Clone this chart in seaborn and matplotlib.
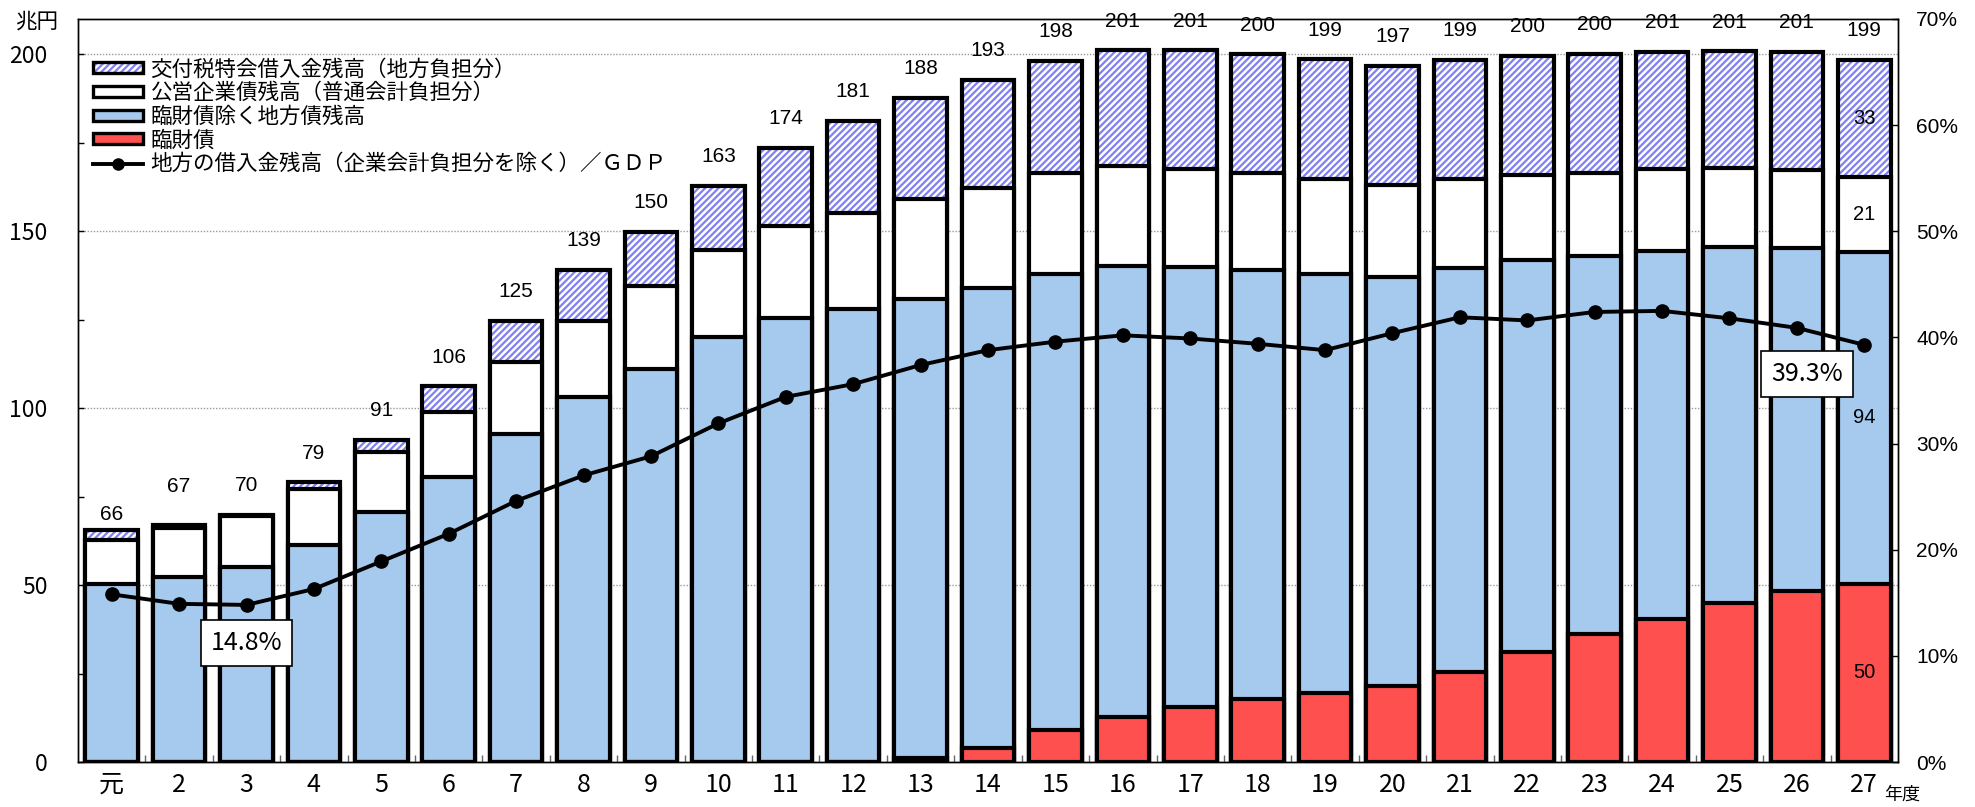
import numpy as np
import matplotlib
matplotlib.use("Agg")
import matplotlib.pyplot as plt
import seaborn as sns
from matplotlib.patches import Patch
from matplotlib.lines import Line2D
from matplotlib.legend_handler import HandlerTuple
from matplotlib.ticker import FixedLocator, FuncFormatter

# ---------------- data (兆円 / %) ----------------
years = ["元"] + [str(y) for y in range(2, 28)]
rinzaisai = [0, 0, 0, 0, 0, 0, 0, 0, 0, 0, 0, 0, 1.1, 3.9, 9.1, 12.8, 15.6, 17.9,
             19.6, 21.5, 25.3, 31.2, 36.1, 40.5, 45.0, 48.3, 50.4]
chihousai = [50.2, 52.3, 55.1, 61.2, 70.6, 80.5, 92.8, 103.2, 111.2, 120.0, 125.6,
             128.0, 129.7, 130.0, 128.8, 127.5, 124.2, 121.2, 118.2, 115.6, 114.2,
             110.7, 106.9, 103.9, 100.6, 97.1, 93.7]
koeikigyo = [12.5, 13.7, 14.4, 16.1, 17.0, 18.4, 20.2, 21.5, 23.4, 24.7, 25.9, 27.1,
             28.3, 28.4, 28.5, 28.2, 27.9, 27.4, 27.0, 26.0, 25.4, 24.0, 23.6, 23.2,
             22.3, 21.8, 21.3]
kofuzei = [3.0, 0.9, 0.3, 1.7, 3.5, 7.3, 11.6, 14.4, 15.2, 18.2, 22.1, 26.2, 28.6,
           30.5, 31.7, 32.6, 33.4, 33.5, 33.8, 33.7, 33.6, 33.7, 33.6, 33.1, 33.0,
           33.5, 33.1]
gdp_ratio = [15.8, 14.9, 14.8, 16.3, 18.9, 21.5, 24.6, 27.0, 28.8, 31.9, 34.4, 35.6,
             37.4, 38.8, 39.6, 40.2, 39.9, 39.4, 38.8, 40.4, 41.9, 41.6, 42.4, 42.5,
             41.8, 40.9, 39.3]
total_labels = [66, 67, 70, 79, 91, 106, 125, 139, 150, 163, 174, 181, 188, 193, 198,
                201, 201, 200, 199, 197, 199, 200, 200, 201, 201, 201, 199]
last_year_labels = [50, 94, 21, 33]
series_names = ["交付税特会借入金残高（地方負担分）", "公営企業債残高（普通会計負担分）",
                "臨財債除く地方債残高", "臨財債"]
ratio_name = "地方の借入金残高（企業会計負担分を除く）／ＧＤＰ"
callouts = ["14.8%", "39.3%"]

# ---------------- style ----------------
BLUE = "#A6C9EE"
RED = "#FF5050"
HATCH_C = "#8080F2"
HATCH = "/////"
EDGE = 3.0
BAR_W = 0.78

plt.rcParams["font.family"] = ["Noto Sans CJK JP", "DejaVu Sans"]
plt.rcParams["hatch.linewidth"] = 1.6
plt.rcParams["axes.unicode_minus"] = False

fig = plt.figure(figsize=(19.75, 8.07), dpi=100)
ax = fig.add_axes([78 / 1975, 45 / 807, 1820 / 1975, 743 / 807])

red = np.array(rinzaisai)
c_blue = red + np.array(chihousai)
c_white = c_blue + np.array(koeikigyo)
c_total = c_white + np.array(kofuzei)


def draw_layer(values, face, edge, lw, hatch=None):
    n0 = len(ax.patches)
    sns.barplot(x=years, y=values, color="white", saturation=1, width=BAR_W,
                errorbar=None, ax=ax)
    for p in ax.patches[n0:]:
        p.set_facecolor(face)
        p.set_edgecolor(edge)
        p.set_linewidth(lw)
        p.set_hatch(hatch)
        p.set_zorder(2)


draw_layer(c_total, "white", HATCH_C, 0, HATCH)
draw_layer(c_total, "none", "black", EDGE)
draw_layer(c_white, "white", "black", EDGE)
draw_layer(c_blue, BLUE, "black", EDGE)
draw_layer(red, RED, "black", EDGE)

# total labels
label_dy = [10.5, 28] + [21] * 25
for i in range(len(years)):
    ax.annotate(str(total_labels[i]), xy=(i, c_total[i]), xytext=(0, label_dy[i]),
                textcoords="offset points", ha="center", va="center", fontsize=15,
                family="Liberation Sans", annotation_clip=False, zorder=6)

# segment labels on the last bar
last = len(years) - 1
mids = [red[last] / 2, (red[last] + c_blue[last]) / 2,
        (c_blue[last] + c_white[last]) / 2, (c_white[last] + c_total[last]) / 2]
for m, lab in zip(mids, last_year_labels):
    ax.text(last, m, str(lab), ha="center", va="center", fontsize=14.5,
            family="Liberation Sans", zorder=6)

# ---------------- line on right axis ----------------
ax2 = ax.twinx()
sns.lineplot(x=years, y=np.array(gdp_ratio) / 100, ax=ax2, color="black",
             linewidth=2.8, marker="o", markersize=9.5, markeredgecolor="black",
             markeredgewidth=1, sort=False)

# callout boxes
ax2.text(2, 0.112, callouts[0], ha="center", va="center", fontsize=18, zorder=7,
         bbox=dict(boxstyle="square,pad=0.4", fc="white", ec="black", lw=1.2))
ax2.text(25.15, 0.366, callouts[1], ha="center", va="center", fontsize=18, zorder=7,
         bbox=dict(boxstyle="square,pad=0.4", fc="white", ec="black", lw=1.2))

# ---------------- axes ----------------
ax.set_xlim(-0.5, 26.5)
ax.set_ylim(0, 210)
ax2.set_ylim(0, 0.7)
ax.set_xlabel("")
ax.set_ylabel("")
ax2.set_xlabel("")
ax2.set_ylabel("")

ax.yaxis.set_major_locator(FixedLocator([0, 50, 100, 150, 200]))
ax.yaxis.set_minor_locator(FixedLocator([25, 75, 125, 175]))
ax.tick_params(axis="y", which="both", direction="in", length=4.5, width=1,
               pad=22, labelsize=16.5)
ax.yaxis.grid(True, which="major", linestyle=(0, (1, 1.2)), color="#9A9A9A",
              linewidth=1)
ax.set_axisbelow(True)

ax.tick_params(axis="x", which="major", length=0, pad=7, labelsize=18)
ax.xaxis.set_minor_locator(FixedLocator(np.arange(0.5, 26, 1)))
ax.tick_params(axis="x", which="minor", direction="in", length=5, width=1,
               color="#666666")

ax2.yaxis.set_major_locator(FixedLocator(np.round(np.arange(0, 0.71, 0.1), 2)))
ax2.yaxis.set_major_formatter(FuncFormatter(lambda v, p: f"{v * 100:.0f}%"))
ax2.tick_params(axis="y", direction="in", length=4.5, width=1, pad=13,
                labelsize=15, labelfontfamily="Liberation Sans")

for a in (ax, ax2):
    for s in a.spines.values():
        s.set_linewidth(1.0)
        s.set_color("black")

# ---------------- legend ----------------
handles = [
    (Patch(facecolor="white", edgecolor=HATCH_C, hatch=HATCH, linewidth=0),
     Patch(facecolor="none", edgecolor="black", linewidth=2.4)),
    Patch(facecolor="white", edgecolor="black", linewidth=2.4),
    Patch(facecolor=BLUE, edgecolor="black", linewidth=2.4),
    Patch(facecolor=RED, edgecolor="black", linewidth=2.4),
    Line2D([], [], color="black", linewidth=2.8, marker="o", markersize=8),
]
ax2.legend(handles, series_names + [ratio_name],
           handler_map={tuple: HandlerTuple(ndivide=1, pad=0)},
           loc="upper left", bbox_to_anchor=(0.0085, 0.947), frameon=False,
           prop={"family": ["Noto Sans CJK JP", "DejaVu Sans"], "size": 15.5},
           handlelength=2.3, handleheight=0.4, handletextpad=0.35,
           labelspacing=0.08, borderpad=0, borderaxespad=0)

fig.text(37 / 1975, 1 - 21.7 / 807, "兆円", ha="center", va="center", fontsize=15.5)
fig.text(1902 / 1975, 1 - 794.5 / 807, "年度", ha="center", va="center", fontsize=13)

fig.savefig("out.png", dpi=100)
